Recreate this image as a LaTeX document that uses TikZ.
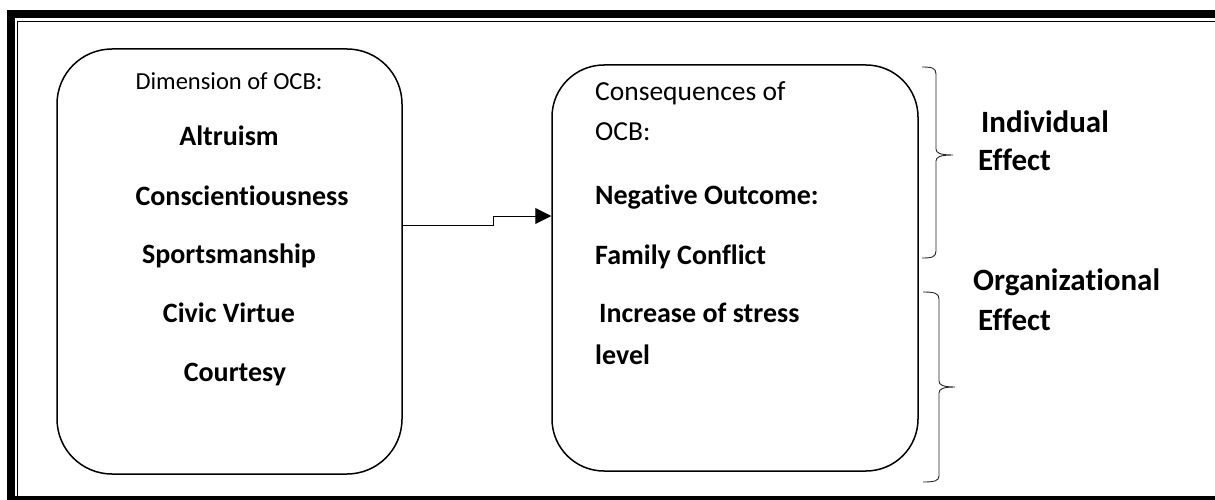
\documentclass[tikz,border=0pt]{standalone}
\usepackage{fontspec}
\setmainfont{Carlito}[Ligatures=NoCommon]
\usetikzlibrary{arrows.meta}

\begin{document}
\begin{tikzpicture}[x=1pt,y=-1pt,
    ocbbox/.style={draw, line width=1.5pt, rounded corners=55pt, inner sep=0pt},
    txt/.style={font=\fontsize{27.5}{32}\selectfont, inner sep=0pt},
    btxt/.style={inner sep=0pt, font=\fontsize{28}{33}\selectfont\bfseries},
    etxt/.style={inner sep=0pt, font=\fontsize{31}{36}\selectfont\bfseries},
    brace/.style={draw=black!85, line width=0.9pt}]
    \useasboundingbox (0,0) rectangle (1215,500);

    % Moldura dupla
    \draw[line width=8pt] (11,500) -- (11,14) -- (1215,14);
    \draw[line width=8pt] (7,500) -- (1215,500);
    \draw[line width=1.4pt] (17.5,497) -- (17.5,21.5) -- (1215,21.5);

    % Caixas
    \node[ocbbox, minimum width=345pt, minimum height=425pt] (dim) at (229.5,261.5) {};
    \node[ocbbox, rounded corners=52pt, minimum width=366pt, minimum height=406pt] (cons) at (735,268) {};

    % Dimensoes
    \node[txt, font=\fontsize{24.5}{29}\selectfont, anchor=base] (dimtitle) at (229,90) {Dimension of OCB:};
    \node[btxt, anchor=base] (alt) at (229,146) {Altruism};
    \node[btxt, anchor=base] (consc) at (242,205) {Conscientiousness};
    \node[btxt, anchor=base] (sport) at (229,263) {Sportsmanship};
    \node[btxt, anchor=base] (civic) at (229,322) {Civic Virtue};
    \node[btxt, anchor=base] (court) at (235,381) {Courtesy};

    % Consequencias
    \node[txt, anchor=base west] (constitle) at (595,101) {Consequences of};
    \node[txt, anchor=base west] (ocb) at (595,141) {OCB:};
    \node[btxt, anchor=base west] (neg) at (595,204) {Negative Outcome:};
    \node[btxt, anchor=base west] (fam) at (595,264) {Family Conflict};
    \node[btxt, anchor=base west] (stress) at (599,322) {Increase of stress};
    \node[btxt, anchor=base west] (level) at (595,364) {level};

    % Efeitos
    \node[etxt, anchor=base west] (indiv) at (981,132) {Individual};
    \node[etxt, anchor=base west] (effa) at (978,171) {Effect};
    \node[etxt, anchor=base west] (org) at (973,290) {Organizational};
    \node[etxt, anchor=base west] (effb) at (978,330) {Effect};

    % Seta entre as caixas
    \draw[line width=1pt, -{Triangle[length=16pt, width=16pt]}]
        ([yshift=36.5pt]dim.east) -- ++(91,0) |- ([yshift=52pt]cons.west);

    % Chaves
    \draw[brace] (922,67) .. controls (932,67) and (936,68) .. (936,74)
        -- (936,149) .. controls (936,153) and (940,155) .. (953,155)
        .. controls (940,155) and (936,157) .. (936,161)
        -- (936,251) .. controls (936,257) and (932,258) .. (922,258);
    \draw[brace] (923,292) .. controls (934,292) and (939,293) .. (939,299)
        -- (939,381) .. controls (939,385) and (943,387) .. (955,387)
        .. controls (943,387) and (939,389) .. (939,393)
        -- (939,476) .. controls (939,481) and (934,482) .. (923,482);
\end{tikzpicture}
\end{document}
